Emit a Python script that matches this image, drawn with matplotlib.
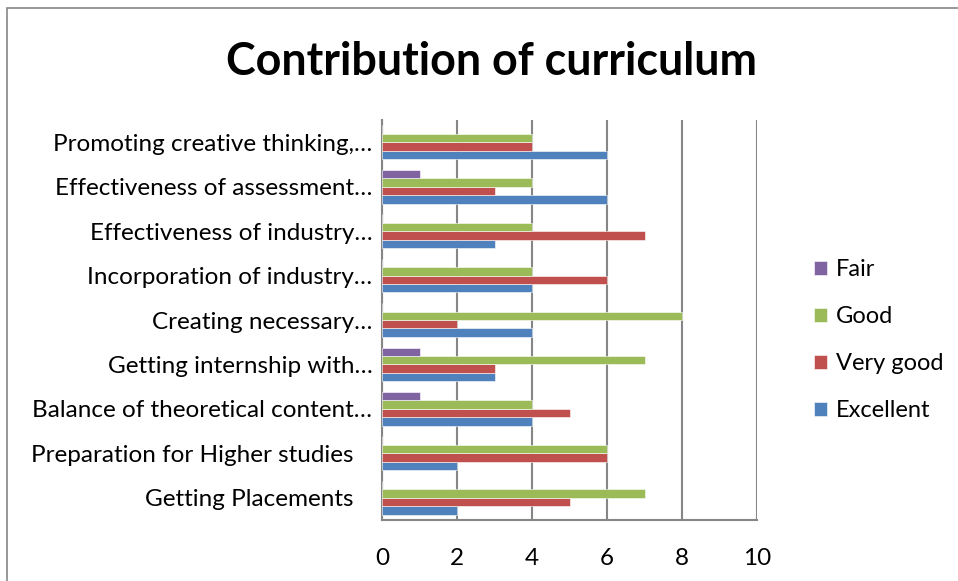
import matplotlib
matplotlib.use("Agg")
import matplotlib.pyplot as plt
import numpy as np
from matplotlib.patches import Rectangle

categories = ["Getting Placements", "Preparation for Higher studies",
              "Balance of theoretical content…", "Getting internship with…",
              "Creating necessary…", "Incorporation of industry…",
              "Effectiveness of industry…", "Effectiveness of assessment…",
              "Promoting creative thinking,…"]
excellent = [2, 2, 4, 3, 4, 4, 3, 6, 6]
very_good = [5, 6, 5, 3, 2, 6, 7, 3, 4]
good = [7, 6, 4, 7, 8, 4, 4, 4, 4]
fair = [0, 0, 1, 1, 0, 0, 0, 1, 0]
series_names = ["Excellent", "Very good", "Good", "Fair"]
colors = ["#4F81BD", "#C0504D", "#9BBB59", "#8064A2"]
xticks = [0, 2, 4, 6, 8, 10]

plt.rcParams['font.family'] = ['Lato', 'DejaVu Sans']

fig = plt.figure(figsize=(9.58, 5.81), dpi=100)
W, H = 958, 581
fig.patches.append(Rectangle((7 / W, -0.1), 1.2, (H - 8) / H + 0.1, transform=fig.transFigure,
                             fill=False, edgecolor="#868686", linewidth=1.2))

ax = fig.add_axes([382 / W, 1 - 520 / H, (757 - 382) / W, (520 - 120) / H])
y = np.arange(len(categories))
h = 0.19
data = [excellent, very_good, good, fair]
bars = []
for i, (vals, c, n) in enumerate(zip(data, colors, series_names)):
    b = ax.barh(y + (i - 1.5) * h, vals, height=h, color=c, label=n, zorder=3,
                edgecolor="white", linewidth=0.4)
    bars.append(b)

ax.set_xlim(0, 10)
ax.set_ylim(-0.5, len(categories) - 0.5)
ax.set_xticks(xticks)
ax.set_xticklabels([str(t) for t in xticks], fontsize=17.5)
labels = [c if c.endswith("…") else c + "   " for c in categories]
ax.set_yticks(y)
ax.set_yticklabels(labels, fontsize=17.5)
ax.tick_params(axis='x', length=0, pad=20)
ax.tick_params(axis='y', length=0, pad=7)
ax.grid(axis='x', color="#868686", linewidth=1.5, zorder=0)
for s in ["top", "right"]:
    ax.spines[s].set_visible(False)
for s in ["left", "bottom"]:
    ax.spines[s].set_color("#868686")
    ax.spines[s].set_linewidth(1.5)

fig.text(492 / W, 1 - 62 / H, "Contribution of curriculum", ha="center", va="center",
         fontsize=32.3, fontweight="bold")

handles = [bars[3], bars[2], bars[1], bars[0]]
leg = fig.legend(handles, ["Fair", "Good", "Very good", "Excellent"],
                 loc="upper left", bbox_to_anchor=(793 / W, 1 - 238 / H),
                 frameon=False, fontsize=17, handlelength=0.55, handleheight=0.55,
                 labelspacing=1.1, handletextpad=0.35)

fig.savefig("out.png", dpi=100)
